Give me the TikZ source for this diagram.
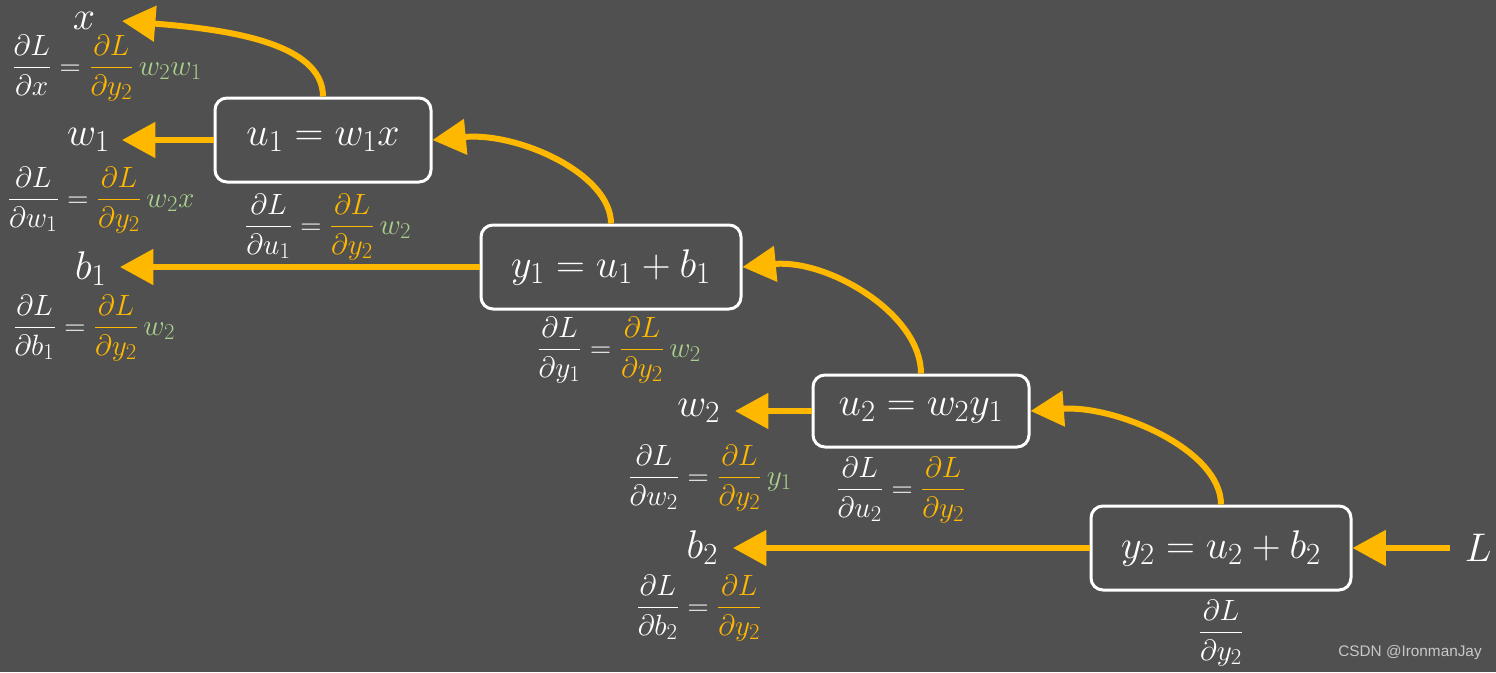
\RequirePackage{fix-cm}
\documentclass[tikz,border=0pt]{standalone}
\usepackage{amsmath}
\usepackage{fontspec}
\newfontfamily\wmfont{Liberation Sans}
\usetikzlibrary{arrows.meta}
\DeclareMathSizes{30}{30}{23}{18}
\DeclareMathSizes{22}{22}{17}{13}
\definecolor{bgc}{RGB}{80,80,80}
\definecolor{gold}{RGB}{255,184,0}
\definecolor{lgreen}{RGB}{169,209,142}
\definecolor{wmgray}{RGB}{200,200,200}
\newcommand{\gfr}[1]{\textcolor{gold}{\dfrac{\partial L}{\partial #1}}}
\newcommand{\wfr}[1]{\dfrac{\partial L}{\partial #1}}
\newcommand{\gr}[1]{\textcolor{lgreen}{\,#1}}
\tikzset{
  box/.style={draw=white, line width=2.25pt, rounded corners=9pt, inner sep=0pt,
    text=white, font=\fontsize{30}{36}\selectfont},
  arr/.style={draw=gold, line width=4.5pt, -{Triangle[length=25pt,width=26pt]}},
  leaf/.style={text=white, font=\fontsize{30}{36}\selectfont, inner ysep=0pt},
  grad/.style={text=white, font=\fontsize{22}{26}\selectfont, inner sep=0pt},
  wm/.style={text=wmgray, font=\wmfont\fontsize{11.5}{13}\selectfont, inner sep=0pt}
}
\begin{document}
\begin{tikzpicture}[x=0.75pt,y=-0.75pt]
\fill[bgc] (0,0) rectangle (1496,672);
\useasboundingbox (0,0) rectangle (1496,672);

% boxes
\node[box, minimum width=162pt, minimum height=63pt] (u1) at (323,140) {$u_1 = w_1x$};
\node[box, minimum width=195pt, minimum height=63pt] (y1) at (611,267) {$y_1 = u_1 + b_1$};
\node[box, minimum width=162pt, minimum height=54pt] (u2) at (921,411) {$u_2 = w_2y_1$};
\node[box, minimum width=195pt, minimum height=63pt] (y2) at (1221,548) {$y_2 = u_2 + b_2$};

% leaves
\node[leaf, anchor=east, inner xsep=20pt] (x) at (122,21) {$x$};
\node[leaf, anchor=east, inner xsep=9pt] (w1) at (122,140) {$w_1$};
\node[leaf, anchor=east, inner xsep=10pt] (b1) at (120,269) {$b_1$};
\node[leaf, anchor=east, inner xsep=11pt] (w2) at (735,411) {$w_2$};
\node[leaf, anchor=east, inner xsep=11pt] (b2) at (733,548) {$b_2$};
\node[leaf, anchor=west, inner xsep=11pt] (L) at (1450,548) {$L$};

% arrows
\draw[arr] (L.west) -- (y2.east |- L.west);
\draw[arr] (y2.west) -- (y2.west -| b2.east);
\draw[arr] (y2.north) .. controls +(0,-55) and +(85,-6) .. (u2.east);
\draw[arr] (u2.west) -- (u2.west -| w2.east);
\draw[arr] (u2.north) .. controls +(0,-60) and +(85,-8) .. (y1.east);
\draw[arr] (y1.west) -- (y1.west -| b1.east);
\draw[arr] (y1.north) .. controls +(0,-50) and +(85,-8) .. (u1.east);
\draw[arr] (u1.west) -- (u1.west -| w1.east);
\draw[arr] (u1.north) .. controls +(0,-55) and +(100,8) .. (x.east);

% gradients
\node[grad] (gx) at (107,68) {$\wfr{x} = \gfr{y_2}\gr{w_2w_1}$};
\node[grad] (gw1) at (101,200) {$\wfr{w_1} = \gfr{y_2}\gr{w_2x}$};
\node[grad] (gu1) at (328,227) {$\wfr{u_1} = \gfr{y_2}\gr{w_2}$};
\node[grad] (gb1) at (94,328) {$\wfr{b_1} = \gfr{y_2}\gr{w_2}$};
\node[grad] (gy1) at (619,350) {$\wfr{y_1} = \gfr{y_2}\gr{w_2}$};
\node[grad] (gw2) at (710,478) {$\wfr{w_2} = \gfr{y_2}\gr{y_1}$};
\node[grad] (gu2) at (901,490) {$\wfr{u_2} = \gfr{y_2}$};
\node[grad] (gb2) at (699,608) {$\wfr{b_2} = \gfr{y_2}$};
\node[grad] (gy2) at (1221,633) {$\wfr{y_2}$};

\node[wm] (wm) at (1410,653) {CSDN @IronmanJay};
\end{tikzpicture}
\end{document}
